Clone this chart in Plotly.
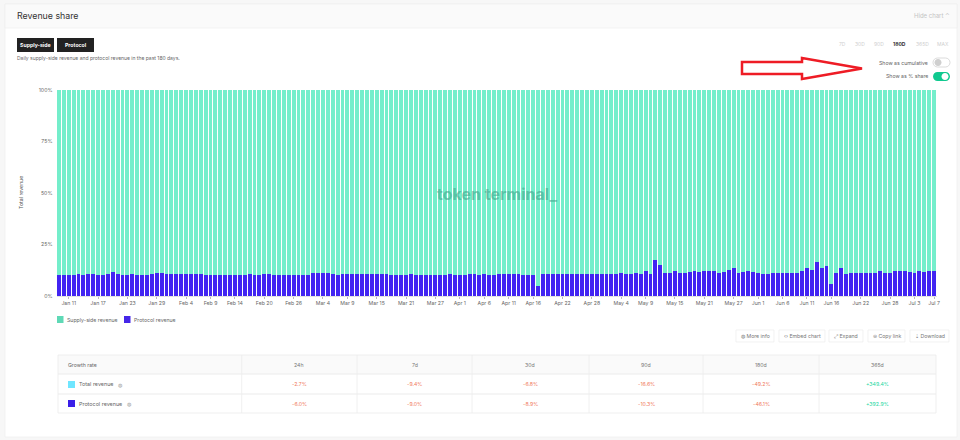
import pandas as pd
import plotly.graph_objects as go

W, H = 960, 440

dates = pd.date_range("2023-01-09", "2023-07-07", freq="D")
protocol_share = [
    10.1, 10.1, 10.3, 10.3, 10.5, 10.2, 10.5, 10.5, 10.4, 10.4, 10.9, 11.5, 10.8, 10.0, 10.3, 10.7, 10.2, 10.4,
    10.4, 10.6, 11.0, 11.0, 10.6, 10.5, 10.5, 10.5, 10.5, 10.5, 10.5, 10.5, 10.4, 10.3, 10.3, 10.4, 10.4, 10.4,
    10.4, 10.3, 10.3, 10.5, 10.3, 10.4, 10.5, 10.5, 10.3, 10.3, 10.3, 10.4, 10.4, 10.3, 10.2, 10.2, 11.0, 11.0,
    11.0, 11.0, 10.9, 10.2, 10.6, 10.6, 10.6, 10.6, 10.6, 10.6, 10.5, 10.5, 10.5, 10.5, 10.4, 10.2, 10.3, 10.4,
    10.5, 10.3, 10.3, 10.2, 10.2, 10.4, 10.4, 10.4, 10.5, 10.4, 10.4, 10.4, 10.5, 10.5, 10.4, 10.5, 10.4, 10.4,
    10.6, 10.5, 10.5, 10.5, 10.5, 10.4, 10.4, 10.4, 4.8, 10.6, 10.6, 10.9, 10.7, 10.7, 10.7, 10.7, 10.8, 10.8,
    10.7, 10.7, 10.7, 10.7, 10.7, 10.7, 10.9, 11.0, 10.9, 10.9, 11.0, 10.9, 11.9, 10.9, 17.4, 15.2, 11.0, 11.4,
    12.0, 11.3, 11.3, 11.6, 11.9, 11.7, 11.9, 12.0, 12.0, 11.4, 11.5, 12.7, 13.6, 11.3, 11.7, 12.1, 11.8, 11.1,
    10.9, 10.9, 11.1, 11.1, 11.1, 11.0, 11.0, 11.0, 12.1, 13.8, 12.4, 16.6, 13.6, 14.8, 5.8, 11.3, 13.5, 10.9,
    11.3, 11.3, 11.3, 11.3, 11.3, 11.3, 12.0, 11.4, 11.3, 12.0, 12.0, 12.0, 11.5, 11.4, 12.3, 11.7, 12.2, 11.9,
]
supply_share = [round(100 - v, 1) for v in protocol_share]

tick_dates = ["2023-01-11", "2023-01-17", "2023-01-23", "2023-01-29", "2023-02-04", "2023-02-09", "2023-02-14",
              "2023-02-20", "2023-02-26", "2023-03-04", "2023-03-09", "2023-03-15", "2023-03-21", "2023-03-27",
              "2023-04-01", "2023-04-06", "2023-04-11", "2023-04-16", "2023-04-22", "2023-04-28", "2023-05-04",
              "2023-05-09", "2023-05-15", "2023-05-21", "2023-05-27", "2023-06-01", "2023-06-06", "2023-06-11",
              "2023-06-16", "2023-06-22", "2023-06-28", "2023-07-03", "2023-07-07"]
tick_labels = ["Jan 11", "Jan 17", "Jan 23", "Jan 29", "Feb 4", "Feb 9", "Feb 14", "Feb 20", "Feb 26", "Mar 4",
               "Mar 9", "Mar 15", "Mar 21", "Mar 27", "Apr 1", "Apr 6", "Apr 11", "Apr 16", "Apr 22", "Apr 28",
               "May 4", "May 9", "May 15", "May 21", "May 27", "Jun 1", "Jun 6", "Jun 11", "Jun 16", "Jun 22",
               "Jun 28", "Jul 3", "Jul 7"]
y_ticks = [0, 25, 50, 75, 100]
y_labels = ["0%", "25%", "50%", "75%", "100%"]

table_columns = ["24h", "7d", "30d", "90d", "180d", "365d"]
total_growth = ["-2.7%", "-9.4%", "-6.8%", "-16.6%", "-49.2%", "+349.4%"]
protocol_growth = ["-6.0%", "-9.0%", "-8.9%", "-10.3%", "-46.1%", "+392.9%"]
range_buttons = ["7D", "30D", "90D", "180D", "365D", "MAX"]

FONT = "Inter"
TEAL, BLUE = "#74eecb", "#4224f2"
shapes, notes = [], []


def px(x):
    return x / W


def py(y):
    return 1 - y / H


def rect(x0, y0, x1, y1, fill="rgba(0,0,0,0)", line=None, lw=0.7, layer="below"):
    shapes.append(dict(type="rect", xref="paper", yref="paper", x0=px(x0), x1=px(x1), y0=py(y0), y1=py(y1),
                       fillcolor=fill, line=dict(color=line or "rgba(0,0,0,0)", width=lw if line else 0), layer=layer))


def seg(x0, y0, x1, y1, color="#ececec", lw=0.8):
    shapes.append(dict(type="line", xref="paper", yref="paper", x0=px(x0), x1=px(x1), y0=py(y0), y1=py(y1),
                       line=dict(color=color, width=lw), layer="below"))


def text(x, y, s, size=5.5, color="#666", anchor="left", angle=0, weight=None):
    shown = f"<b>{s}</b>" if weight else s
    notes.append(dict(xref="paper", yref="paper", x=px(x), y=py(y), text=shown, showarrow=False, xanchor=anchor,
                      yanchor="middle", textangle=angle, font=dict(family=FONT, size=size, color=color),
                      borderpad=0, borderwidth=0))


def pill(x0, y0, x1, y1, fill, line=None):
    r = (y1 - y0) / 2
    k = r * 0.55
    p = (f"M{px(x0+r)},{py(y0)} L{px(x1-r)},{py(y0)} "
         f"C{px(x1-r+k)},{py(y0)} {px(x1)},{py(y0+r-k)} {px(x1)},{py(y0+r)} "
         f"C{px(x1)},{py(y0+r+k)} {px(x1-r+k)},{py(y1)} {px(x1-r)},{py(y1)} "
         f"L{px(x0+r)},{py(y1)} "
         f"C{px(x0+r-k)},{py(y1)} {px(x0)},{py(y0+r+k)} {px(x0)},{py(y0+r)} "
         f"C{px(x0)},{py(y0+r-k)} {px(x0+r-k)},{py(y0)} {px(x0+r)},{py(y0)} Z")
    shapes.append(dict(type="path", xref="paper", yref="paper", path=p, fillcolor=fill,
                       line=dict(color=line or "rgba(0,0,0,0)", width=0.7 if line else 0), layer="above"))


# page and card
rect(0, 0, 960, 440, fill="#f7f7f7")
rect(5, 4, 957, 437, fill="#ffffff", line="#eeeeee")
rect(5, 4, 957, 28, fill="#fafafa", line="#eeeeee")
text(17, 15.5, "Revenue share", size=8.8, color="#333")
text(950, 15.5, "Hide chart ⌃", size=6, color="#c4c4c4", anchor="right")

# series buttons
rect(17, 38, 54, 52, fill="#222222")
rect(57, 38, 94, 52, fill="#222222")
text(35.5, 45, "Supply-side", size=5.2, color="#fff", anchor="center", weight=True)
text(75.5, 45, "Protocol", size=5.2, color="#fff", anchor="center", weight=True)
text(17, 58, "Daily supply-side revenue and protocol revenue in the past 180 days.", size=5, color="#666")

# range selector
for cx, lab in zip([842, 860, 879, 899, 922, 943], range_buttons):
    text(cx, 43.5, lab, size=5, color="#333" if lab == "180D" else "#cfcfcf", anchor="center", weight=lab == "180D")

# toggles
text(928, 62.5, "Show as cumulative", size=5.2, color="#666", anchor="right")
text(928, 76.5, "Show as % share", size=5.2, color="#666", anchor="right")
pill(933, 58, 950, 67, "#ffffff", "#cccccc")
pill(934.5, 59, 941.5, 66, "#cfcfcf")
pill(933, 72, 950, 81, "#10c98f")
pill(941.5, 73, 948.5, 80, "#ffffff")

# red annotation arrow
arrow_pts = [(742, 62), (802, 62), (802, 58), (862, 68.5), (802, 79), (802, 74), (742, 74)]
arrow_path = "M" + " L".join(f"{px(a)},{py(b)}" for a, b in arrow_pts) + " Z"
shapes.append(dict(type="path", xref="paper", yref="paper", path=arrow_path, fillcolor="#ffffff",
                   line=dict(color="#ee1c25", width=2.5), layer="above"))

# legend
rect(57, 316, 63.5, 323, fill="#5fd9b6")
text(67, 319.5, "Supply-side revenue", size=5.2)
rect(124, 316, 130.5, 323, fill="#4526e8")
text(134, 319.5, "Protocol revenue", size=5.2)

# action buttons
for x0, x1, lab in [(736, 774, "◍ More info"), (779, 825, "‹› Embed chart"), (829, 863, "⤢ Expand"),
                    (868, 905, "⊝ Copy link"), (910, 949, "⇣ Download")]:
    rect(x0, 330, x1, 342, fill="#ffffff", line="#ececec")
    text((x0 + x1) / 2, 336, lab, size=5.2, color="#777", anchor="center")

# growth table
col_edges = [241.7, 357, 472, 589, 703, 819]
rect(58, 355, 936, 374, fill="#fafafa")
rect(58, 355, 936, 413, line="#e8e8e8")
seg(58, 374, 936, 374, lw=1)
seg(58, 394, 936, 394, lw=1.2)
for xe in col_edges:
    seg(xe, 355, xe, 413)
text(68, 364.5, "Growth rate", size=5.2)
col_centers = [299, 414.7, 530, 646, 761, 877]
for cx, lab, a, b in zip(col_centers, table_columns, total_growth, protocol_growth):
    text(cx, 364.5, lab, size=5.2, color="#777", anchor="center")
    for yy, val in ((384, a), (403.5, b)):
        text(cx, yy, val, size=5.2, color="#1ad6a0" if val.startswith("+") else "#f0785a", anchor="center")
rect(68, 381, 75, 388, fill="#6fe6ff")
rect(68, 400, 75, 407, fill="#3a1fe8")
text(79, 384, "Total revenue", size=5.4)
text(79, 403.5, "Protocol revenue", size=5.4)
text(120, 384.5, "◍", size=5, color="#999", anchor="center")
text(129, 404, "◍", size=5, color="#999", anchor="center")

# chart text
text(21, 193, "Total revenue", size=5.2, color="#555", anchor="center", angle=-90)
text(497, 194, "token terminal_", size=16, color="rgba(70,165,140,0.6)", anchor="center", weight=True)

fig = go.Figure()
fig.add_bar(x=dates, y=protocol_share, name="Protocol revenue", marker=dict(color=BLUE, line_width=0))
fig.add_bar(x=dates, y=supply_share, name="Supply-side revenue", marker=dict(color=TEAL, line_width=0))
fig.update_layout(
    width=W, height=H, margin=dict(l=0, r=0, t=0, b=0, autoexpand=False), paper_bgcolor="#ffffff",
    plot_bgcolor="rgba(0,0,0,0)",
    barmode="stack", bargap=0.2, showlegend=False, shapes=shapes, annotations=notes,
    font=dict(family=FONT, size=5.2, color="#666"),
    xaxis=dict(domain=[px(56.5), px(936.5)], type="date", range=["2023-01-08 12:00", "2023-07-07 12:00"],
               tickmode="array", tickvals=tick_dates, ticktext=tick_labels, tickangle=0, ticks="outside", ticklen=2,
               tickcolor="#bbb", tickwidth=0.7, showgrid=False, showline=True, linecolor="#e3e3e3", linewidth=0.7,
               tickfont=dict(size=5.2, color="#666"), anchor="y"),
    yaxis=dict(domain=[py(296), py(90)], range=[0, 100], tickmode="array", tickvals=y_ticks, ticktext=y_labels,
               showgrid=False, zeroline=False, showline=False, ticks="", tickfont=dict(size=5.2, color="#666"),
               ticklabelstandoff=3, anchor="x"),
)
fig.write_html("out.html", config=dict(displayModeBar=False),
               post_script="document.documentElement.style.margin='0';document.body.style.margin='0';"
                           "var g=document.getElementById('{plot_id}');g.style.position='fixed';"
                           "g.style.left='0';g.style.top='0';")
